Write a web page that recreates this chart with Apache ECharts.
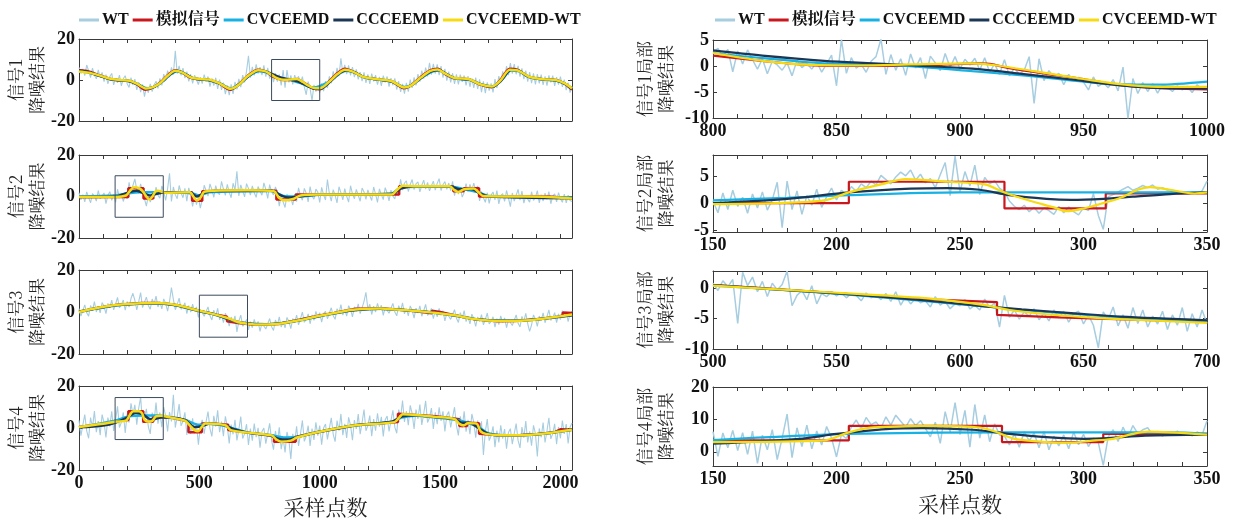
<!DOCTYPE html>
<html><head><meta charset="utf-8">
<script src="https://cdn.jsdelivr.net/npm/echarts@6/dist/echarts.min.js"></script>
<style>html,body{margin:0;padding:0;background:#fff}#c{width:1233px;height:524px}</style>
</head><body><div id="c"></div>
<script>
// ---------- names / labels ----------
const seriesNames = ['WT','模拟信号','CVCEEMD','CCCEEMD','CVCEEMD-WT'];
const leftYNames = ['信号1\n降噪结果','信号2\n降噪结果','信号3\n降噪结果','信号4\n降噪结果'];
const rightYNames = ['信号1局部\n降噪结果','信号2局部\n降噪结果','信号3局部\n降噪结果','信号4局部\n降噪结果'];
const xAxisName = '采样点数';
const leftXRange = [0, 2048];
const leftXLabels = [0, 500, 1000, 1500, 2000];
const leftYRange = [-20, 20];
const leftYLabels = [-20, 0, 20];
const rightXRanges = [[800,1000],[150,350],[500,700],[150,350]];
const rightXLabels = [[800,850,900,950,1000],[150,200,250,300,350],[500,550,600,650,700],[150,200,250,300,350]];
const rightYRanges = [[-10,5],[-5.4,9],[-10,2.8],[-4.4,20]];
const rightYLabels = [[-10,-5,0,5],[-5,0,5],[-10,-5,0],[0,10,20]];
const zoomBoxY = [[-10,10],[-10,10],[-12,8],[-5.5,14.5]];
const wtStepLeft = 8;
const wtStepRight = 2;

// ---------- left: WT (one value every 8 samples from 0 to 2048) ----------
const wt1 = [6.1,3.2,5.4,2.1,7.3,4.6,1.2,5.8,2.4,0.6,4.9,1.3,3.7,-0.8,2.6,-1.9,1.7,3.2,-2.4,0.9,-1.3,2.4,-2.9,0.6,2.1,-1.8,-3.6,1.2,-2.5,0.4,-4.8,-1.1,-5.9,-2.2,-8.1,-3.4,-6.2,-1.9,-5.7,-2.4,-0.6,-4.1,0.8,-2.6,2.9,-0.3,4.6,1.4,6.2,2.7,14.2,3.1,6.9,2.2,5.8,0.9,4.1,-0.7,2.8,-1.6,2.3,3.1,-2.2,1.4,-1.8,2.6,-0.9,1.7,-3.2,0.8,-2.7,1.1,-4.3,0.2,-4.8,-1.3,-6.9,-2.6,-7.4,-2.1,-6.8,-0.9,-4.6,0.6,-3.5,2.4,-1.2,4.3,11.8,1.1,6.4,2.2,7.6,3.1,6.3,2.4,7.2,1.6,5.9,0.7,4.6,-1.1,3.4,-0.8,2.7,-2.6,4.9,-3.8,4.8,-1.2,2.3,-2.1,2.4,-0.6,1.8,-1.9,1.6,-3.4,-7.2,-0.8,-4.1,-10.1,-2.4,-5.6,-2.9,-6.2,-1.7,-5.4,-0.6,-3.9,1.8,-1.6,4.2,0.4,5.9,1.8,10.6,3.2,7.4,2.9,7.1,2.2,6.3,1.4,5.2,0.3,3.9,-0.6,3.7,-1.4,2.8,-1.9,3.1,-0.7,2.4,-2.3,1.5,-2.9,2.1,-1.1,1.7,-3.2,0.9,-2.6,0.8,-4.7,-0.6,-5.8,-1.9,-6.6,-1.4,-5.7,0.2,-3.9,1.3,-2.6,2.9,-0.8,4.6,0.7,6.1,1.8,8.4,2.6,7.9,3.1,7.6,2.4,6.8,1.2,5.4,-0.3,4.1,-1.2,3.3,-1.9,2.8,-2.2,2.6,-0.9,2.2,-2.6,1.9,-3.3,0.8,-3.8,1.2,-4.4,0.3,-5.9,-0.7,-6.4,-1.1,-5.2,-1.6,-6.1,0.4,-3.9,1.9,-1.6,4.2,0.6,6.8,2.4,8.2,3.1,7.7,2.8,6.9,1.6,5.7,0.4,4.6,-0.8,3.9,-1.5,3.2,-2.1,2.9,-1.7,2.6,-2.4,1.8,-2.8,2.3,-1.2,2.1,-2.9,1.4,-2.3,1.6,-3.4,0.2,-4.9,-1.3,-6.2,-3.1];
const wt2 = [1.8,-1.6,0.9,-2.6,2.2,-0.4,-3.1,1.4,0.2,-2.2,2.9,-1.1,-1.5,1.7,-3.4,0.6,2.3,-1.9,1.1,-2.8,3.5,-0.7,1.6,-2.4,0.8,-1.2,6.8,2.1,5.3,8.5,3.2,1.6,6.1,2.4,2.3,-4.6,0.8,-2.7,-0.2,-1.2,4.5,0.6,-0.8,5.1,2.4,-1.9,3.7,11.2,-2.4,4.6,0.9,-1.1,5.3,1.8,-0.6,3.9,-2.2,4.2,0.4,-4.8,0.6,-3.9,-0.4,-5.6,-1.3,5.4,2.8,0.2,6.1,3.3,-0.4,5.2,1.9,0.9,7.3,3.6,0.5,5.8,2.1,-0.6,6.4,3.2,12.1,0.3,5.6,2.6,-0.2,6.2,3.9,0.7,5.1,1.8,-0.4,4.8,2.5,0.6,6.6,3.4,-0.9,5.7,2.2,0.8,4.6,2.1,-4.7,0.9,-2.6,-5.3,1.2,-2.4,-0.3,-4.1,0.6,-2.4,4.2,0.3,-1.8,3.9,1.6,-2.6,4.8,0.2,-1.3,3.6,2.1,-2.9,4.4,0.8,-1.7,8.2,1.4,-2.2,3.3,0.5,-3.1,4.7,1.9,-1.6,3.8,0.1,-2.7,5.2,1.3,-1.1,3.4,0.6,-2.3,4.1,2.2,-1.4,3.2,0.4,-1.9,4.6,1.1,-2.8,3.7,0.9,-1.5,4.3,1.7,-2.1,3.1,0.2,-1.2,3.6,1.5,8.3,3.1,6.4,7.6,2.4,5.8,8.2,3.3,6.1,7.1,2.2,5.4,7.9,3.6,6.8,2.7,5.2,7.4,3.1,6.3,8.6,2.9,5.7,7.2,3.4,6.5,2.8,7.3,0.4,4.6,1.2,3.8,-0.3,1.9,6.2,2.3,5.8,3.1,6.4,2.6,5.1,-2.1,2.4,-0.6,-2.8,1.9,-3.3,0.7,2.2,-1.6,2.8,-3.6,0.4,1.4,-2.4,2.9,-0.8,-4.9,1.7,-2.2,0.6,3.4,-1.8,2.6,-3.2,0.3,1.1,-2.7,2.3,-1.9,-0.4,2.8,-3.1,0.9,-2.2,1.6,-1.4,2.4,-3.5,0.2,1.3,-2.6,1.9,-1.1,-2.8,1.2,-3.1,0.6,-1.9,-2.4];
const wt3 = [1.6,-1.9,0.8,3.4,-0.4,-2.0,3.1,0.8,4.9,0,2.8,-0.4,4.5,2.7,-0.8,4.1,2.0,5.7,1.0,3.8,7.0,2.0,3.3,5.7,0.9,5.0,2.3,6.4,8.9,5.6,1.0,4.9,9.2,2.1,4.7,7.1,3.1,1.3,6.2,3.7,7.6,2.4,5.0,1.5,6.2,4.1,0.4,5.0,11.6,6.0,1.1,3.6,6.6,1.3,2.3,4.4,-0.8,3.0,-0.1,3.8,0.3,2.4,-2.6,1.2,1.9,-2.0,0.3,2.4,-1.8,-3.8,0.9,-1.9,1.7,-3.7,-1.4,-5.1,-0.6,-2.8,-6.7,-2.4,-5.0,-1.8,-9.5,-4.4,-1.5,-6.8,-5.7,-3.5,-8.5,-4.6,-7.5,-3.5,-6.7,-4.5,-9.2,-5.3,-4.4,-8.1,-5.6,-3.1,-7.0,-8.8,-3.8,-6.2,-2.3,-7.2,-4.4,-7.6,-2.6,-4.5,-7.9,-3.1,-5.1,-1.5,-6.1,-3.3,0,-4.9,-3.4,-0.9,-5.6,-1.4,-4.0,0.3,-2.7,-0.3,-4.8,-0.8,0.3,-3.2,-0.5,2.0,-1.8,-3.5,1.6,-0.6,3.5,-1.5,1.2,-2.0,3.0,1.2,-2.3,2.5,0.3,3.9,-0.8,2.0,5.1,9.4,1.3,3.7,-1.2,2.8,0,4.1,0.9,3.2,-1.6,2.3,3.1,-0.6,1.8,4.1,0,-1.8,3.0,0.5,4.3,-0.9,1.6,-1.8,2.9,0.8,-2.9,1.8,-0.5,2.9,-2.0,0.6,3.6,-1.6,-0.5,1.7,-3.2,0.6,-2.3,1.7,-1.6,0.6,-4.2,-0.5,0.3,-3.5,-1.1,1.1,-3.0,-5.0,-0.3,-3.0,0.7,-4.6,-2.1,-5.7,-1.0,-3.2,-6.9,-2.3,-4.6,-1.2,-6.1,-3.5,-0.5,-5.7,-4.5,-2.3,-7.2,-3.2,-6.0,-1.9,-5.1,-2.8,-7.5,-3.6,-2.7,-6.4,-3.9,-1.4,-5.4,-7.1,-2.1,-4.5,-0.6,-5.6,-9.2,-6.2,-1.4,-3.3,-6.8,-1.9,-4.0,-0.4,-5.1,-2.2,1.0,-4.0,-2.7,-0.3,-5.1,-0.9,-3.6,0.6,-2.4,0,-4.6,-0.6,0.4];
const wt4 = [3.7,-3.6,1.5,6.4,-1.4,-4.9,5.0,0.2,8.1,-2.0,3.3,-3.4,6.4,2.6,-4.5,5.0,0.8,8.0,-1.4,4.0,10.3,0.2,2.7,7.4,-2.3,6.7,2.6,11.8,6.4,11.0,1.6,9.4,14.6,2.3,4.8,9.1,0.6,-2.8,7.3,3.3,12.1,2.1,7.4,0.4,9.9,5.7,-1.6,7.6,3.1,15.8,0.2,5.4,11.4,1.0,3.2,7.5,-3.3,3.7,-2.8,4.6,-2.6,1.7,-7.9,0.9,3.9,-2.7,3.0,7.8,-0.3,-4.0,5.8,0.7,8.4,-2.0,3.1,-3.9,5.6,0.8,-7.3,1.6,-3.0,3.9,-5.9,-0.7,5.4,-5.0,-2.7,1.8,-8.1,-0.3,-6.0,2.1,-4.4,0.1,-9.4,-1.7,0,-7.5,-2.6,2.2,-5.9,-10.3,-1.4,-7.0,0.3,-10.1,-4.9,-11.6,-1.9,-5.8,-14.8,-2.8,-6.6,0.8,-8.5,-2.9,3.6,-6.4,-3.8,1.1,-8.5,-0.3,-5.7,2.7,-3.6,1.2,-8.0,0,1.9,-5.4,-0.2,4.8,-3.0,-6.5,3.5,-1.3,6.7,-3.4,2.0,-4.7,5.1,1.3,-5.8,3.8,-0.5,6.6,-2.9,2.6,8.8,-1.3,1.2,5.9,-3.9,4.2,-1.3,7.0,0.6,5.3,-4.0,3.9,5.7,-1.6,3.5,8.4,0.4,-2.5,8.8,4.8,13.1,2.9,8.1,1.3,10.8,6.8,-0.5,8.8,4.3,11.2,1.5,6.8,12.9,2.6,4.9,9.5,-0.4,7.5,1.8,9.9,3.4,7.9,-1.6,6.1,7.8,0.3,5.2,9.9,1.1,-3.5,5.6,0.2,7.9,-1.8,3.9,-2.9,6.7,2.7,-4.6,3.6,-2.8,3.2,-12.8,-1.7,4.3,-6.0,-3.7,0.8,-9.1,-1.2,-6.9,1.3,-5.1,-0.5,-9.9,-2.1,-0.3,-7.7,-2.7,2.1,-5.9,-9.5,0.4,-4.6,3.3,-6.9,-1.6,-8.4,1.3,-2.6,-13.6,-0.2,-4.5,2.6,-6.9,-1.4,4.9,-5.2,-2.7,2.0,-7.7,0.5,-4.9,3.5,-2.8,1.9,-7.4,0.5,2.4];

// ---------- left: smooth series [sample, value] ----------
const red1 = [[0,4.7],[40,4.2],[80,2.5],[130,0.5],[170,-0.2],[210,-0.5],[240,-2],[275,-4.7],[310,-3.5],[340,-1],[370,2.5],[400,4.8],[430,3.5],[465,1],[500,0.3],[540,0],[580,-1.5],[628,-4.7],[665,-2],[700,2],[745,5],[775,4.2],[800,2],[820,1],[850,0],[880,0],[905,0.5],[920,-0.4],[950,-2.5],[970,-4],[1000,-4.5],[1040,-0.5],[1075,3.5],[1105,5.5],[1140,4],[1180,1.5],[1240,0.3],[1300,-0.8],[1350,-4],[1380,-2.5],[1420,1.5],[1460,4.8],[1490,5.5],[1520,3],[1560,0.8],[1620,0.3],[1670,-2.4],[1715,-3.5],[1750,0],[1790,5.5],[1820,5],[1870,1.5],[1930,0.3],[1980,0],[2020,-2],[2048,-4.7]];
const cyan1 = [[0,4.3],[40,3.7],[80,2.3],[130,0.5],[170,-0.1],[210,-0.6],[245,-2],[280,-4],[315,-3.2],[345,-0.9],[375,2.2],[405,4.2],[435,3.3],[470,1],[500,0.3],[540,-0.1],[585,-1.7],[632,-4.1],[668,-1.9],[705,1.8],[748,4.3],[778,3.8],[800,2.5],[820,1.5],[845,0.5],[870,0.2],[885,-0.2],[905,-1],[930,-2],[950,-3],[965,-3.5],[980,-3.6],[1000,-3],[1045,-0.4],[1080,3],[1110,4.5],[1145,3.6],[1185,1.3],[1240,0.2],[1300,-0.8],[1352,-3.4],[1385,-2.2],[1425,1.2],[1465,4],[1495,4.6],[1525,2.9],[1560,0.8],[1620,0.1],[1670,-2],[1718,-3],[1755,-0.1],[1795,4.6],[1825,4.4],[1870,1.4],[1930,0.2],[1980,-0.2],[2020,-1.9],[2048,-4]];
const navy1 = [[0,4.5],[40,3.8],[80,2.2],[130,0.4],[170,-0.1],[210,-0.6],[245,-2.2],[280,-4.3],[315,-3.2],[345,-0.8],[375,2.4],[405,4.5],[435,3.4],[470,1],[500,0.4],[540,0],[585,-1.8],[632,-4.4],[668,-1.8],[705,2],[748,4.6],[778,4],[800,3],[820,2],[845,1],[865,0.5],[885,0],[905,-0.5],[925,-1.5],[945,-2.6],[960,-3.5],[972,-4],[985,-4.3],[1005,-4.2],[1045,-0.6],[1080,3.2],[1110,4.8],[1145,3.8],[1185,1.4],[1240,0.3],[1300,-0.7],[1352,-3.7],[1385,-2.3],[1425,1.4],[1465,4.3],[1495,4.9],[1525,3],[1560,0.9],[1620,0.2],[1670,-2.2],[1718,-3.3],[1755,0],[1795,5],[1825,4.7],[1870,1.5],[1930,0.3],[1980,-0.1],[2020,-1.9],[2048,-4.4]];
const yellow1 = [[0,4.2],[40,3.6],[80,2.4],[130,0.6],[170,0],[210,-0.4],[240,-1.8],[280,-4.2],[310,-3.4],[340,-1.2],[370,2.2],[400,4.5],[430,3.6],[465,1.2],[500,0.5],[540,0.2],[580,-1.4],[630,-4.3],[665,-2.2],[700,1.8],[745,4.8],[775,4.2],[800,2.5],[820,1],[840,0.2],[860,0.1],[880,0.3],[905,0.5],[915,0.1],[930,-1],[950,-2.5],[965,-3.5],[980,-4],[1000,-4],[1040,-0.8],[1075,3],[1105,5],[1140,4],[1180,1.6],[1240,0.4],[1300,-0.6],[1350,-3.6],[1380,-2.6],[1420,1.2],[1460,4.4],[1490,5.1],[1520,3.2],[1560,1],[1620,0.4],[1670,-2.2],[1715,-3.2],[1750,-0.3],[1790,5],[1820,4.8],[1870,1.6],[1930,0.4],[1980,0],[2020,-1.8],[2048,-4.2]];

const red2 = [[0,-0.3],[205,-0.3],[205,4],[268,4],[268,-1],[308,-1],[308,2],[470,2],[470,-2],[512,-2],[512,2.5],[620,2.8],[820,2.8],[820,-1.5],[900,-1.5],[900,1],[1330,1],[1330,5],[1555,5],[1555,2.5],[1598,2.5],[1598,4],[1662,4],[1662,0],[1950,0],[2048,-0.8]];
const cyan2 = [[0,0],[150,0.5],[205,1.5],[250,2],[360,2],[470,1.5],[500,0.5],[540,2],[800,2.6],[850,0.2],[900,0],[1000,0.8],[1300,1.5],[1340,4.5],[1540,4.8],[1600,3.5],[1660,2],[1700,0.3],[2048,-0.5]];
const navy2 = [[0,-0.2],[150,0],[205,2],[240,2.8],[270,1.5],[295,0.5],[320,1.2],[360,2],[460,2],[490,0],[520,1.8],[560,2.6],[800,2.8],[840,0.5],[870,-0.5],[910,0],[1000,1],[1300,1.2],[1340,4],[1400,5],[1540,5],[1580,3.5],[1630,3.6],[1665,1.5],[1700,0],[2048,-0.8]];
const yellow2 = [[0,-0.3],[150,-0.2],[195,0.5],[210,2.5],[228,4.5],[250,4],[265,2.5],[280,0],[292,-1.5],[305,0],[318,2.5],[330,2.8],[345,2.2],[360,1.8],[460,2],[478,-0.5],[490,-2],[505,-0.5],[520,2.2],[560,2.8],[700,3],[810,2.5],[830,-0.5],[850,-1.8],[890,-1.2],[920,0.5],[1000,1],[1300,1],[1320,3],[1345,5.2],[1400,5],[1540,5],[1560,3],[1575,2.2],[1600,3.5],[1640,3.8],[1660,2],[1680,0.2],[1800,0],[1950,-0.2],[2048,-1]];

const red3 = [[0,0],[80,2],[160,3.5],[260,4.3],[330,4.3],[410,3.2],[500,0.5],[560,-1],[615,-2.3],[615,-4.4],[660,-5.3],[720,-6],[780,-6],[830,-5.7],[920,-3.6],[1000,-1.7],[1060,-0.5],[1090,0.2],[1090,0.8],[1150,1.5],[1250,1.8],[1320,1.2],[1400,0.4],[1466,-0.6],[1466,0.6],[1500,0],[1560,-1.5],[1650,-3.6],[1740,-4.4],[1810,-4.3],[1900,-3.5],[1990,-2.2],[2010,-1.6],[2010,-0.2],[2048,-0.5]];
const cyan3 = [[0,0],[80,1.8],[160,3.2],[260,4],[330,4.1],[410,3],[500,0.4],[560,-1.1],[610,-3],[625,-3.6],[660,-4.9],[720,-5.6],[780,-5.8],[830,-5.5],[920,-3.9],[1000,-2],[1100,0.1],[1150,0.9],[1250,1.5],[1320,1.1],[1400,0.5],[1470,-0.3],[1560,-1.7],[1650,-3.4],[1740,-4.1],[1810,-4.2],[1900,-3.6],[1990,-2.3],[2048,-1.4]];
const navy3 = [[0,0.2],[80,1.9],[160,3.3],[260,4.1],[330,4.2],[410,3.1],[500,0.5],[560,-1],[610,-3],[625,-3.5],[660,-4.8],[720,-5.7],[780,-5.9],[830,-5.5],[920,-3.8],[1000,-1.9],[1100,0.2],[1150,1],[1250,1.6],[1320,1.2],[1400,0.5],[1470,-0.2],[1560,-1.7],[1650,-3.5],[1740,-4.2],[1810,-4.2],[1900,-3.6],[1990,-2.4],[2048,-1.6]];
const yellow3 = [[0,0],[80,2],[160,3.4],[260,4.2],[330,4.3],[410,3.2],[500,0.6],[560,-1],[620,-3],[660,-4.8],[720,-5.8],[780,-6],[830,-5.6],[920,-3.8],[1000,-1.8],[1100,0.4],[1150,1.2],[1250,1.7],[1320,1.2],[1400,0.5],[1470,-0.3],[1560,-1.6],[1650,-3.5],[1740,-4.3],[1810,-4.3],[1900,-3.6],[1990,-2.2],[2048,-1.2]];

const red4 = [[0,0.5],[100,2],[150,3.3],[205,3.8],[205,8],[267,8],[267,3],[308,3],[308,5.5],[380,5],[455,3.2],[455,-2],[510,-2],[510,2.2],[560,2],[620,1.5],[620,-1],[700,-2.2],[810,-3.8],[810,-6.6],[900,-6.6],[900,-4.3],[990,-2],[1150,1.3],[1325,2.9],[1325,6.8],[1400,6.2],[1480,5.6],[1480,4.8],[1580,4.2],[1580,1],[1612,1],[1612,2.5],[1662,2.3],[1662,-2.7],[1750,-3.5],[1830,-3.5],[1900,-3],[1977,-2],[2000,-0.6],[2048,-0.8]];
const cyan4 = [[0,0.3],[150,3.5],[205,5.5],[267,6],[330,6],[380,5],[440,3.8],[500,1.5],[540,2],[600,1.2],[650,-0.5],[700,-2.2],[800,-3.5],[850,-4.5],[900,-4.3],[990,-2],[1150,1.2],[1300,3],[1340,5],[1400,5.8],[1480,5],[1560,4],[1600,3],[1660,0.5],[1700,-2.5],[1760,-3.5],[1830,-3.5],[1900,-3],[1977,-2],[2048,-0.8]];
const navy4 = [[0,0.3],[100,1.2],[150,2.5],[200,5],[235,7.3],[265,6.5],[290,4.5],[310,4.2],[340,5],[380,5],[440,3.8],[480,0.5],[510,0.8],[540,2],[600,1.4],[640,-0.5],[700,-2.2],[790,-3.5],[830,-5.2],[870,-5.5],[910,-4.2],[990,-2],[1150,1.3],[1300,3],[1340,5.5],[1400,6.1],[1480,5.2],[1560,4.3],[1590,2.5],[1620,2.5],[1660,0],[1700,-2.8],[1760,-3.5],[1830,-3.4],[1900,-3],[1977,-2],[2048,-0.8]];
const yellow4 = [[0,0.5],[100,2],[150,3],[195,3.5],[210,6],[225,8],[250,8],[262,7],[272,4],[290,3],[305,3.5],[320,5.5],[340,5.8],[380,5],[440,3.5],[462,1],[480,-1],[495,-1.5],[510,0.5],[525,2.2],[560,2],[610,1.2],[630,-1],[700,-2.2],[800,-3.5],[820,-5.5],[840,-6.5],[880,-6],[905,-4.5],[990,-2],[1150,1.3],[1310,2.8],[1330,5],[1345,6.5],[1400,6.2],[1480,5.3],[1560,4.3],[1580,2],[1598,1.2],[1615,2.3],[1650,2.2],[1668,-1.5],[1690,-2.8],[1750,-3.5],[1830,-3.5],[1900,-3],[1977,-2],[2048,-0.8]];

// ---------- right: WT (one value every 2 samples from range start) ----------
const rwt1 = [2.6,3.4,1.8,3.2,-1.1,2.9,0.4,3.1,1.2,-0.6,1.4,-1.5,0.9,0.2,-0.8,0.6,-1.9,1.1,-0.3,0.5,-0.6,0.8,-1.2,0.4,2.1,-3.8,5.1,-1.4,1.6,-0.4,0.3,-1.2,0.9,1.8,5.2,-1.6,2.2,-0.8,1.4,-1.8,2.3,-0.4,1.6,-2.4,1.9,0.6,-0.9,2.4,-0.3,1.8,-0.6,1.3,0.2,1.5,-0.8,1.6,-1.2,0.4,-1.6,1.2,-1.9,-0.4,-1.6,-0.8,1.8,-7.2,1.4,-2.8,-0.9,-2.1,-1.4,-3.6,-1.6,-2.9,-2.2,-3.1,-4.6,-2.1,-3.9,-3.2,-4.2,-2.6,-4.8,-0.2,-10.1,-2.4,-5.3,-3.2,-4.9,-3.4,-5.2,-3.6,-4.1,-4.9,-3.8,-4.6,-3.9,-5.1,-3.6,-4.4,-4.1];
const rwt2 = [0.4,-1.8,1.9,-1.2,2.4,-0.6,1.1,-1.9,1.7,-0.9,2.1,-1.3,0.6,3.9,-4.6,4.1,-1.2,2.3,-2.1,1.4,-0.4,2.6,-0.8,1.2,2.8,0.6,2.4,1.5,3.1,2.2,3.6,2.9,4.1,3.4,5.2,4.4,3.6,4.9,5.8,5.1,6.2,4.3,5.4,3.8,4.6,2.9,5.3,7.6,1.4,8.8,2.1,5.9,3.2,7.1,1.6,4.8,3.6,4.2,2.8,2.1,0.4,-0.6,-1.2,-0.4,-1.6,-0.8,-1.9,-0.9,-1.4,-2.1,-0.6,-1.8,-0.7,-1.6,-2.2,-0.9,-1.4,1.8,-2.3,-4.9,1.2,1.6,2.1,2.6,3.1,2.4,2.8,3.3,2.9,3.4,2.6,2.9,2.4,2.1,1.9,2.2,1.8,2.1,1.7,2.3,4.1];
const rwt3 = [0.8,-0.4,1.2,0.2,1.4,-5.8,2.6,0.4,1.8,-0.6,1.1,-1.4,0.8,-0.3,0.6,2.8,-2.9,-1.2,-0.4,-1.9,0.4,-2.6,-0.9,-1.4,-0.6,-1.3,-0.8,-1.6,-0.9,-1.2,-2.1,-0.8,-1.6,-1.1,-1.9,-0.9,-2.2,-0.6,-2.8,-1.4,-2.6,-1.7,-2.4,-2.1,-3.1,-1.4,-2.8,-2.2,-3.4,-2.6,-2.9,-1.9,-3.4,-2.8,-3.6,-1.8,-3.2,-2.4,-6.4,-1.2,-4.8,-3.6,-5.1,-3.9,-4.6,-3.4,-5.2,-4.1,-5.4,-3.6,-4.9,-3.8,-5.6,-4.2,-3.8,-5.9,-4.4,-6.1,-9.8,-3.9,-5.2,-3.1,-6.2,-4.4,-6.6,-3.2,-5.8,-3.6,-6.4,-4.6,-5.9,-3.8,-6.8,-4.4,-6.1,-3.2,-7.1,-4.2,-6.4,-3.6,-5.8];
const rwt4 = [6.2,-1.4,5.8,1.2,6.6,0.4,5.9,-0.8,6.4,-3.6,5.1,0.6,6.8,-2.4,4.2,11.6,-1.8,7.4,1.6,8.2,0.9,6.4,2.1,7.8,4.2,-1.6,5.3,4.1,7.6,9.8,7.1,10.6,8.4,9.2,7.3,10.8,8.2,11.3,9.4,7.6,10.2,8.1,9.6,7.2,4.6,9.1,2.6,12.4,6.1,15.2,5.3,12.8,1.4,14.6,4.2,11.4,3.1,8.6,5.2,4.8,2.1,5.6,1.4,6.2,3.4,5.8,1.2,6.3,0.6,4.8,1.8,5.2,0.9,6.1,2.2,5.4,1.6,4.2,2.8,-4.2,4.6,6.8,3.2,7.6,4.4,8.1,5.6,6.8,7.4,5.2,6.3,4.8,6.1,5.3,6.4,5.1,5.8,4.9,6.1,5.2,9.6];

// ---------- right: smooth series ----------
const rred1 = [[800,2],[820,1],[835,0.3],[850,0],[880,0],[895,0.3],[908,0.5],[912,0.4],[920,-0.4],[935,-1.5],[950,-2.5],[962,-3.5],[972,-4],[985,-4.3],[1000,-4.5]];
const rcyan1 = [[800,2.5],[820,1.5],[845,0.5],[870,0.2],[885,-0.2],[905,-1],[930,-2],[950,-3],[965,-3.5],[980,-3.6],[1000,-3]];
const rnavy1 = [[800,3],[820,2],[845,1],[865,0.5],[885,0],[905,-0.5],[925,-1.5],[945,-2.6],[960,-3.5],[972,-4],[985,-4.3],[1000,-4.3]];
const ryellow1 = [[800,2.5],[820,1],[840,0.2],[860,0.1],[880,0.3],[905,0.5],[915,0.1],[930,-1],[950,-2.5],[965,-3.5],[980,-4],[1000,-4]];

const rred2 = [[150,0],[205,0],[205,4],[268,4],[268,-1],[309,-1],[309,1.8],[350,1.8]];
const rcyan2 = [[150,0.5],[180,1],[205,1.5],[250,2],[350,2]];
const rnavy2 = [[150,0],[180,0.8],[205,2],[230,2.7],[245,2.8],[258,2.5],[270,1.5],[285,0.8],[295,0.6],[308,0.8],[320,1.2],[335,1.7],[350,2]];
const ryellow2 = [[150,-0.2],[175,0],[195,0.5],[205,2],[218,3.5],[228,4.5],[245,4],[260,3.5],[268,2],[278,0.5],[288,-0.8],[293,-1.5],[300,-1],[308,0],[315,1],[322,2.5],[327,3],[335,2.5],[345,1.8],[350,2]];

const rred3 = [[500,0.5],[520,0],[555,-1],[590,-1.9],[615,-2.3],[615,-4.4],[640,-4.8],[670,-5.2],[700,-5.5]];
const rcyan3 = [[500,0.4],[525,-0.2],[555,-1.1],[585,-2.1],[610,-3],[625,-3.6],[645,-4.2],[665,-4.8],[700,-5.4]];
const rnavy3 = [[500,0.5],[525,-0.2],[555,-1],[585,-2],[610,-3],[625,-3.5],[645,-4.1],[665,-4.7],[700,-5.3]];
const ryellow3 = [[500,0.4],[530,-0.3],[560,-1],[590,-1.8],[610,-2.8],[620,-3.6],[635,-4.3],[660,-5],[700,-5.7]];

const rred4 = [[150,3.5],[205,3.5],[205,8],[267,8],[267,3],[308,3],[308,5.5],[350,5.5]];
const rcyan4 = [[150,3.6],[205,5.5],[267,6],[335,6],[350,5.6]];
const rnavy4 = [[150,2.5],[185,4],[200,5.5],[220,7],[235,7.3],[255,6.8],[270,5.5],[285,4.5],[300,4],[310,4.2],[325,5],[350,5.3]];
const ryellow4 = [[150,3],[195,3.5],[205,6],[215,7.5],[240,8],[258,7.5],[265,6],[272,4],[285,3],[295,2.8],[305,3.5],[312,4],[320,5.5],[326,6.2],[335,6],[350,5.3]];

// ---------- assembly ----------
const leftWT = [wt1, wt2, wt3, wt4];
const leftLines = [[red1,cyan1,navy1,yellow1],[red2,cyan2,navy2,yellow2],[red3,cyan3,navy3,yellow3],[red4,cyan4,navy4,yellow4]];
const rightWT = [rwt1, rwt2, rwt3, rwt4];
const rightLines = [[rred1,rcyan1,rnavy1,ryellow1],[rred2,rcyan2,rnavy2,ryellow2],[rred3,rcyan3,rnavy3,ryellow3],[rred4,rcyan4,rnavy4,ryellow4]];
const redSmooth = [true, false, false, false];

const COLORS = ['#a7cde0', '#c9171e', '#17b1e4', '#1c3756', '#f6db12'];
const AX = '#3a3a3a';
const NUMFONT = {fontFamily: '"Liberation Serif","Times New Roman",serif', fontWeight: 'bold', fontSize: 18, color: '#111'};
const CJK = '"Noto Serif CJK SC","Noto Sans CJK SC",serif';
const plain = v => String(v);

const leftBox = {left: 79, width: 493, tops: [39, 155, 270, 386], heights: [82, 83, 84, 84]};
const rightBox = {left: 713, width: 494, tops: [40, 155, 271, 387], heights: [78, 77, 78, 79]};

const grids = [], xAxes = [], yAxes = [], series = [];

function tickList(a, b, step) { const t = []; for (let v = a; v <= b + 1e-9; v += step) t.push(v); return t; }

function panel(opt) {
  const g = grids.length;
  grids.push({left: opt.left, top: opt.top, width: opt.width, height: opt.height, containLabel: false});
  const xt = tickList(opt.xr[0], opt.xLabels[opt.xLabels.length-1], opt.xStep);
  const xi = xAxes.length, yi = yAxes.length;
  const baseX = {type: 'value', gridIndex: g, min: opt.xr[0], max: opt.xr[1],
    axisLine: {show: true, onZero: false, lineStyle: {color: AX, width: 1}},
    axisTick: {show: true, inside: true, length: 4, customValues: xt, lineStyle: {color: AX}},
    splitLine: {show: false}};
  xAxes.push(Object.assign({}, baseX, {position: 'bottom',
    axisLabel: Object.assign({show: opt.showX, customValues: opt.xLabels, margin: 4, formatter: plain}, NUMFONT),
    name: opt.xName || '', nameLocation: 'middle', nameGap: opt.xNameGap || 28,
    nameTextStyle: {fontFamily: CJK, fontSize: 21, color: '#222'}}));
  xAxes.push(Object.assign({}, baseX, {position: 'top', axisLabel: {show: false}}));
  const baseY = {type: 'value', gridIndex: g, min: opt.yr[0], max: opt.yr[1],
    axisLine: {show: true, onZero: false, lineStyle: {color: AX, width: 1}},
    axisTick: {show: true, inside: true, length: 4, customValues: opt.yLabels, lineStyle: {color: AX}},
    splitLine: {show: false}};
  yAxes.push(Object.assign({}, baseY, {position: 'left',
    axisLabel: Object.assign({show: true, customValues: opt.yLabels, margin: 4, formatter: plain}, NUMFONT),
    name: opt.yName, nameLocation: 'middle', nameRotate: 90, nameGap: opt.yNameGap,
    nameTextStyle: {fontFamily: CJK, fontSize: 17, lineHeight: 21, color: '#222', align: 'center'}}));
  yAxes.push(Object.assign({}, baseY, {position: 'right', axisLabel: {show: false}}));

  series.push({name: seriesNames[0], type: 'line', xAxisIndex: xi, yAxisIndex: yi, symbol: 'none',
    data: opt.wt.map((v, i) => [opt.xr[0] + i * opt.wtStep, v]),
    lineStyle: {color: COLORS[0], width: opt.wtW}, itemStyle: {color: COLORS[0]}, z: 2});
  opt.lines.forEach((d, k) => {
    const s = {name: seriesNames[k+1], type: 'line', xAxisIndex: xi, yAxisIndex: yi, symbol: 'none',
      data: d, smooth: k === 0 ? (opt.redSmooth ? 0.3 : false) : 0.3,
      lineStyle: {color: COLORS[k+1], width: opt.lineW}, itemStyle: {color: COLORS[k+1]}, z: 3 + k};
    if (k === 3 && opt.zoomBox) {
      s.markArea = {silent: true, z: 10,
        itemStyle: {color: 'rgba(0,0,0,0)', borderColor: '#3b4b5c', borderWidth: 1},
        data: [[{xAxis: opt.zoomBox[0][0], yAxis: opt.zoomBox[1][0]}, {xAxis: opt.zoomBox[0][1], yAxis: opt.zoomBox[1][1]}]]};
    }
    series.push(s);
  });
}

for (let i = 0; i < 4; i++) {
  panel({left: leftBox.left, top: leftBox.tops[i], width: leftBox.width, height: leftBox.heights[i],
    xr: leftXRange, xLabels: leftXLabels, xStep: 100, showX: i === 3,
    xName: i === 3 ? xAxisName : '', xNameGap: 27,
    yr: leftYRange, yLabels: leftYLabels, yName: leftYNames[i], yNameGap: 30,
    wt: leftWT[i], wtStep: wtStepLeft, wtW: 1.1, lines: leftLines[i], lineW: 2.5,
    redSmooth: redSmooth[i], zoomBox: [rightXRanges[i], zoomBoxY[i]]});
}
for (let i = 0; i < 4; i++) {
  panel({left: rightBox.left, top: rightBox.tops[i], width: rightBox.width, height: rightBox.heights[i],
    xr: rightXRanges[i], xLabels: rightXLabels[i], xStep: 10, showX: true,
    xName: i === 3 ? xAxisName : '', xNameGap: 28,
    yr: rightYRanges[i], yLabels: rightYLabels[i], yName: rightYNames[i], yNameGap: 37,
    wt: rightWT[i], wtStep: wtStepRight, wtW: 1.5, lines: rightLines[i], lineW: 2.2,
    redSmooth: i === 0, zoomBox: null});
}

const legendBase = {data: seriesNames, top: 7, icon: 'rect', itemWidth: 20, itemHeight: 3, itemGap: 4,
  textStyle: {fontFamily: '"Liberation Serif","Times New Roman","Noto Serif CJK SC",serif', fontWeight: 'bold', fontSize: 16, color: '#111', padding: [0, 0, 0, -2]}};

const chart = echarts.init(document.getElementById('c'), null, {renderer: 'canvas'});
chart.setOption({
  animation: false,
  backgroundColor: '#fff',
  legend: [Object.assign({left: 74}, legendBase), Object.assign({left: 710}, legendBase)],
  grid: grids, xAxis: xAxes, yAxis: yAxes, series: series
});
</script></body></html>
